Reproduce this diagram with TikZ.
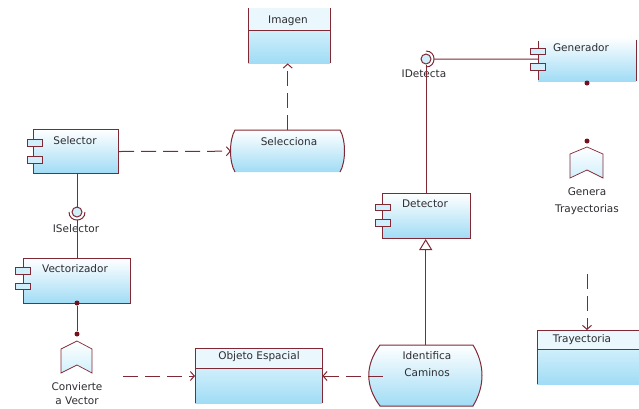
\documentclass[tikz,border=0pt]{standalone}
\usepackage{fontspec}
\setmainfont{DejaVu Sans}
\usetikzlibrary{arrows.meta,calc}
\definecolor{ink}{RGB}{128,40,52}
\definecolor{dotc}{RGB}{115,18,28}
\definecolor{skyB}{RGB}{160,220,245}
\definecolor{skyM}{RGB}{208,239,251}
\definecolor{hdr}{RGB}{234,247,253}
\definecolor{txt}{RGB}{45,45,50}
\tikzset{
  wire/.style={draw=ink, line width=1pt},
  dep/.style={wire, dash pattern=on 15pt off 7pt, -{Straight Barb[length=4pt,width=9pt]}},
  panel/.style={rectangle, inner sep=0pt, anchor=north west, top color=white, bottom color=skyB},
  comp/.style={panel, draw=ink, line width=1pt},
  hdrbox/.style={rectangle, inner sep=0pt, anchor=north west, fill=hdr},
  bodybox/.style={rectangle, inner sep=0pt, anchor=north west, top color=skyM, bottom color=skyB},
  tab/.style={rectangle, draw=ink, line width=1pt, fill=skyM, minimum width=15pt, minimum height=6.5pt, inner sep=0pt},
  lbl/.style={inner sep=0pt, text=txt, font=\fontsize{10.5}{12}\selectfont},
  ball/.style={circle, draw=ink, line width=1pt, fill=skyM, minimum size=10pt, inner sep=0pt},
  pin/.style={circle, fill=dotc, minimum size=5pt, inner sep=0pt},
  flag/.style={draw=ink, line width=0.7pt, top color=white, bottom color=skyM},
  spot/.style={rectangle, inner sep=0pt, anchor=north west},
}
\begin{document}
\begin{tikzpicture}[x=1pt,y=-1pt]
\useasboundingbox (0,0) rectangle (639,408);

% ---- Imagen (class box, open top)
\node[hdrbox, minimum width=82pt, minimum height=22pt] (imagen-h) at (248,8) {};
\node[bodybox, minimum width=82pt, minimum height=33pt] (imagen) at (248,30) {};
\draw[wire] (imagen-h.north west) -- (imagen.south west);
\draw[wire] (imagen-h.north east) -- (imagen.south east);
\draw[wire] (imagen-h.south west) -- (imagen-h.south east);
\node[lbl] (imagen-n) at (288,21) {Imagen};

% ---- Selecciona (process)
\node[spot, minimum width=113pt, minimum height=42pt] (selecc) at (231,130) {};
\path[top color=white, bottom color=skyB] (235,130) -- (340,130)
  .. controls (346,140) and (346,162) .. (340,172) -- (235,172)
  .. controls (229,162) and (229,140) .. (235,130);
\draw[wire] (235,172) .. controls (229,162) and (229,140) .. (235,130)
  -- (340,130) .. controls (346,140) and (346,162) .. (340,172);
\node[lbl] (selecc-n) at (289,142) {Selecciona};

% ---- Selector
\node[comp, minimum width=85pt, minimum height=44pt] (selector) at (33,129) {};
\node[tab] (selector-p1) at (34.5,143) {};
\node[tab] (selector-p2) at (34.5,160) {};
\node[lbl] (selector-n) at (75,141) {Selector};

% ---- ISelector interface
\node[ball] (isel) at (77,212) {};
\draw[wire] (69,212) .. controls (69,222.7) and (85,222.7) .. (85,212);
\coordinate (isel-sock) at (77,220);
\node[lbl] (isel-n) at (76,229) {ISelector};

% ---- Vectorizador
\node[comp, minimum width=107pt, minimum height=45pt] (vect) at (23,258) {};
\node[tab] (vect-p1) at (22.5,271) {};
\node[tab] (vect-p2) at (22.5,286.5) {};
\node[lbl] (vect-n) at (75,269) {Vectorizador};
\node[pin] (vect-pin) at (77,303) {};

% ---- Convierte a Vector
\node[pin] (conv-pin) at (77,334) {};
\node[spot, minimum width=31pt, minimum height=32pt] (conv) at (61,341) {};
\draw[flag] (61,349) -- (77,341) -- (92,349) -- (92,373) -- (77,365) -- (61,373) -- cycle;
\node[lbl] (conv-n1) at (77,387) {Convierte};
\node[lbl] (conv-n2) at (77,401) {a Vector};
\coordinate (conv-out) at (123,376);

% ---- Objeto Espacial
\node[hdrbox, minimum width=127pt, minimum height=20pt] (objeto-h) at (195,348) {};
\node[bodybox, minimum width=127pt, minimum height=35pt] (objeto) at (195,368) {};
\draw[wire] (objeto.south west) -- (objeto-h.north west) -- (objeto-h.north east) -- (objeto.south east);
\draw[wire] (objeto-h.south west) -- (objeto-h.south east);
\node[lbl] (objeto-n) at (259,357) {Objeto Espacial};

% ---- Identifica Caminos (process)
\node[spot, minimum width=113pt, minimum height=61pt] (ident) at (369,345) {};
\draw[wire, top color=white, bottom color=skyB] (380,345) -- (473,345)
  .. controls (485,365) and (485,386) .. (473,406) -- (380,406)
  .. controls (365,386) and (365,365) .. (380,345) -- cycle;
\node[lbl] (ident-n1) at (427,356) {Identifica};
\node[lbl] (ident-n2) at (427,373) {Caminos};
\coordinate (ident-out) at (383,376);

% ---- Detector
\node[comp, minimum width=88pt, minimum height=45pt] (detector) at (382,193) {};
\node[tab] (detector-p1) at (382.5,207.5) {};
\node[tab] (detector-p2) at (382.5,223) {};
\node[lbl] (detector-n) at (425,204) {Detector};

% ---- IDetecta interface
\node[ball] (idet) at (426,59) {};
\draw[wire] (426,51) .. controls (436.7,51) and (436.7,67) .. (426,67);
\coordinate (idet-sock) at (434,59);
\node[lbl] (idet-n) at (424,74) {IDetecta};

% ---- Generador (open top and bottom)
\node[panel, minimum width=98pt, minimum height=44pt] (gen) at (538,37) {};
\draw[wire] ([yshift=-4pt]gen.north west) -- ([yshift=1pt]gen.south west);
\draw[wire] ([yshift=-3pt]gen.north east) -- (gen.south east);
\node[tab] (gen-p1) at (538,51.5) {};
\node[tab] (gen-p2) at (538,67) {};
\node[lbl] (gen-n) at (581,48) {Generador};
\node[pin] (gen-pin) at (587,83) {};

% ---- Genera Trayectorias
\node[pin] (genera-pin) at (587,141) {};
\node[spot, minimum width=33pt, minimum height=31pt] (genera) at (570,147) {};
\draw[flag] (570,154) -- (587,147) -- (603,154) -- (603,178) -- (587,170) -- (570,178) -- cycle;
\node[lbl] (genera-n1) at (587,192) {Genera};
\node[lbl] (genera-n2) at (587,210) {Trayectorias};
\coordinate (genera-out) at (587,274);

% ---- Trayectoria (class box, open right)
\node[hdrbox, minimum width=104pt, minimum height=19pt] (tray-h) at (537,330) {};
\node[bodybox, minimum width=104pt, minimum height=35pt] (tray) at (537,349) {};
\draw[wire] (tray.south west) -- (tray-h.north west) -- (tray-h.north east);
\draw[wire] (tray-h.south west) -- (tray-h.south east);
\node[lbl] (tray-n) at (582,340) {Trayectoria};

% ---- solid connectors
\draw[wire] (isel.north |- selector.south) -- (isel.north);
\draw[wire] (isel-sock) -- (isel-sock |- vect.north);
\draw[wire] (vect-pin) -- (conv-pin);
\draw[wire] (idet-sock) -- (gen.west);
\draw[wire] (idet.south) -- (idet.south |- detector.north);
\draw[wire, -{Triangle[open, fill=white, length=11pt, width=13pt]}] (ident.north) -- (ident.north |- detector.south);

% ---- dependencies
\draw[dep] (selector.east) -- (selecc.west);
\draw[dep] (selecc.north) -- (selecc.north |- imagen.south);
\draw[dep] (conv-out) -- (conv-out -| objeto.west);
\draw[dep] (ident-out) -- (ident-out -| objeto.east);
\draw[dep] (genera-out) -- (genera-out |- tray-h.north);
\end{tikzpicture}
\end{document}
